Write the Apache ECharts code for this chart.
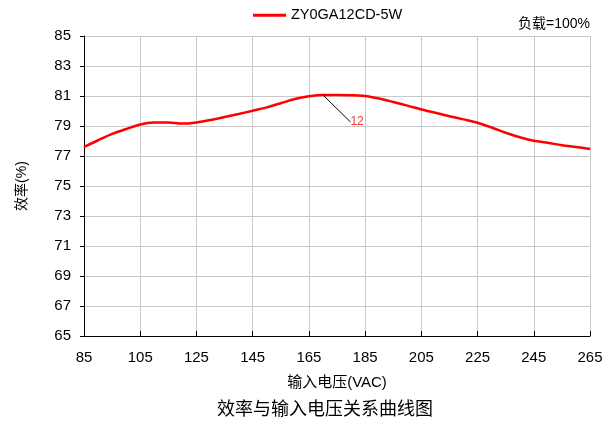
<!DOCTYPE html>
<html><head><meta charset="utf-8">
<script src="https://cdn.jsdelivr.net/npm/echarts@6/dist/echarts.min.js"></script>
<style>html,body{margin:0;padding:0;background:#fff}#c{width:614px;height:422px}</style>
</head><body><div id="c"></div>
<script>
const voltages = [85,90,95,100,105,110,115,120,125,130,135,140,145,150,155,160,165,170,175,180,185,190,195,200,205,210,215,220,225,230,235,240,245,250,255,260,265];
const efficiency = [77.6,78.05,78.47,78.8,79.1,79.23,79.24,79.16,79.24,79.4,79.6,79.8,80.02,80.24,80.52,80.8,80.98,81.07,81.07,81.05,81.0,80.83,80.6,80.36,80.1,79.88,79.65,79.44,79.22,78.9,78.55,78.25,78.02,77.88,77.72,77.6,77.47];
const seriesName = 'ZY0GA12CD-5W';
const labelIndex = 17; const labelText = '12';
const yTicks = [65,67,69,71,73,75,77,79,81,83,85];
const titleText = '效率与输入电压关系曲线图';
const xName = '输入电压(VAC)';
const yName = '效率(%)';
const loadText = '负载=100%';

const data = efficiency.map((v,i)=> i===labelIndex
  ? {value:v, label:{show:true, formatter:labelText}, labelLine:{show:true}}
  : v);
const font = 'Liberation Sans, Arial, Noto Sans CJK SC, sans-serif';
const chart = echarts.init(document.getElementById('c'));
chart.setOption({
  animation:false,
  textStyle:{fontFamily:font},
  title:[{text:titleText,left:212,bottom:0,textStyle:{fontSize:18,fontWeight:'normal',color:'#000',fontFamily:'Noto Sans CJK SC, sans-serif'}},
         {text:loadText,right:19,top:12,textStyle:{fontSize:14,fontWeight:'normal',color:'#000',fontFamily:font}}],
  legend:{top:3,left:248,itemWidth:33,itemHeight:3,icon:'rect',itemGap:3,textStyle:{fontSize:14.5,color:'#000',fontFamily:font},data:[seriesName]},
  grid:{left:84,right:24,top:36,bottom:86},
  xAxis:{type:'category',data:voltages,boundaryGap:false,name:xName,nameLocation:'middle',nameGap:39,
    nameTextStyle:{fontSize:15,color:'#000',fontFamily:font},
    axisLine:{lineStyle:{color:'#000',width:1}},
    axisTick:{inside:true,length:5,interval:3,lineStyle:{color:'#000'}},
    axisLabel:{interval:3,fontSize:15,color:'#000',margin:14,fontFamily:font},
    splitLine:{show:true,interval:3,lineStyle:{color:'#c8c8c8',width:1}}},
  yAxis:{type:'value',min:yTicks[0],max:yTicks[yTicks.length-1],interval:2,name:yName,nameLocation:'middle',nameGap:55,
    nameTextStyle:{fontSize:14,color:'#000',fontFamily:font},
    axisLine:{show:true,lineStyle:{color:'#000',width:1}},
    axisTick:{show:true,inside:false,length:4,lineStyle:{color:'#000'}},
    axisLabel:{fontSize:15,color:'#000',margin:13,fontFamily:font},
    splitLine:{show:true,lineStyle:{color:'#c8c8c8',width:1}}},
  series:[{name:seriesName,type:'line',data:data,smooth:0.3,showSymbol:true,symbol:'circle',symbolSize:1,
    lineStyle:{color:'#ff0000',width:2.5},itemStyle:{color:'#ff0000'},
    label:{show:false,color:'#ff3030',fontSize:12,position:'right',padding:[0,0,0,4]},
    labelLine:{show:true,lineStyle:{color:'#000',width:1}},
    labelLayout:{dx:18,dy:27},
    emphasis:{disabled:true}}]
});
</script></body></html>
